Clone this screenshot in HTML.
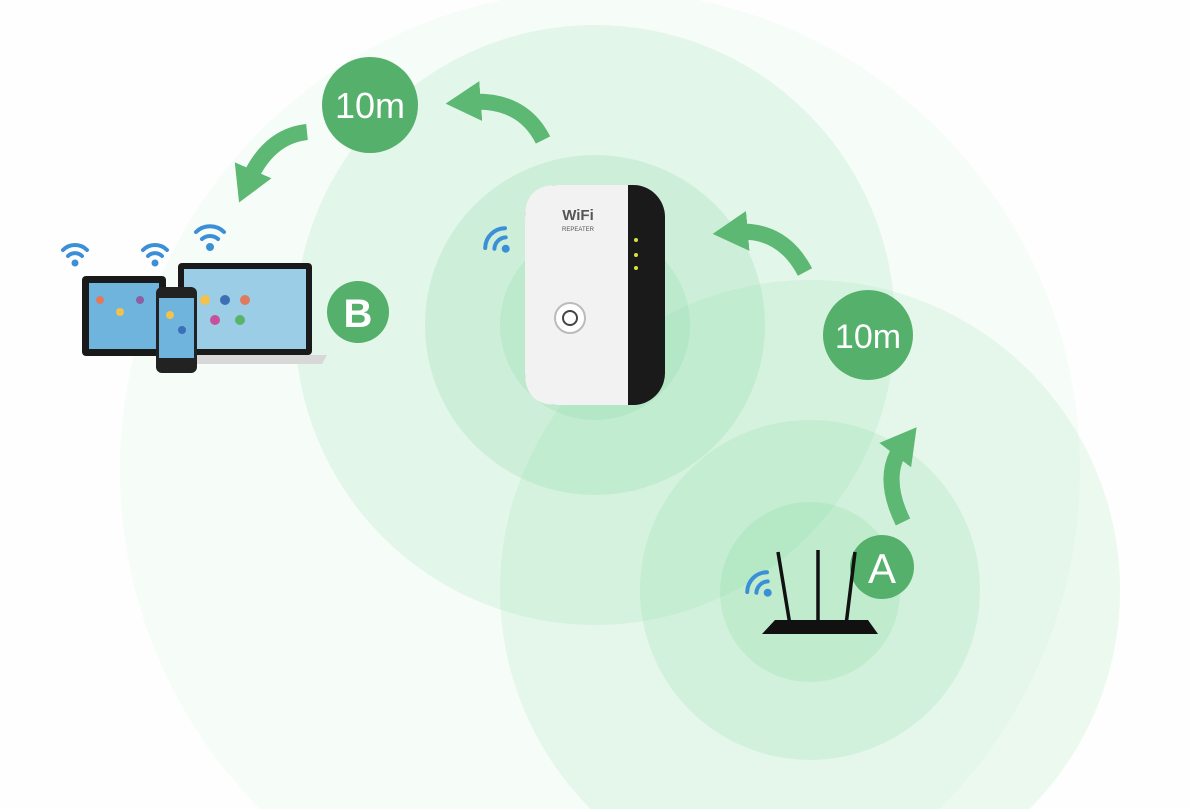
<!DOCTYPE html>
<html><head><style>
html,body{margin:0;padding:0;background:#fff;width:1190px;height:809px;overflow:hidden;}
svg{display:block}
text{font-family:"Liberation Sans",sans-serif}
</style></head><body>
<svg width="1190" height="809" viewBox="0 0 1190 809" xmlns="http://www.w3.org/2000/svg">
<defs>
<marker id="ah" markerWidth="3" markerHeight="3" refX="0.8" refY="1.25" orient="auto" markerUnits="strokeWidth">
<path d="M0,0 L2.2,1.25 L0,2.5 z" fill="#5cb872"/>
</marker>
</defs>
<rect width="1190" height="809" fill="#fdfefd"/>
<circle cx="600" cy="470" r="480" fill="#7fd99a" opacity="0.05"/>
<circle cx="810" cy="590" r="310" fill="#7fd99a" opacity="0.14"/>
<circle cx="595" cy="325" r="300" fill="#7fd99a" opacity="0.16"/>
<circle cx="810" cy="590" r="170" fill="#7fd99a" opacity="0.18"/>
<circle cx="595" cy="325" r="170" fill="#7fd99a" opacity="0.2"/>
<circle cx="810" cy="592" r="90" fill="#7fd99a" opacity="0.22"/>
<circle cx="595" cy="325" r="95" fill="#7fd99a" opacity="0.2"/>

<g fill="none" stroke="#5cb872" stroke-width="16" stroke-linecap="butt">
<path d="M903,522 Q880,475 903,445" marker-end="url(#ah)"/>
<path d="M805,272 Q782,228 735,232" marker-end="url(#ah)"/>
<path d="M543,140 Q522,98 468,102" marker-end="url(#ah)"/>
<path d="M307,132 Q268,136 248,182" marker-end="url(#ah)"/>
</g>

<circle cx="370" cy="105" r="48" fill="#55b06c"/>
<text x="370" y="118" font-size="36" fill="#fff" text-anchor="middle">10m</text>
<circle cx="868" cy="335" r="45" fill="#55b06c"/>
<text x="868" y="348" font-size="34" fill="#fff" text-anchor="middle">10m</text>
<circle cx="358" cy="312" r="31" fill="#55b06c"/>
<text x="358" y="327" font-size="40" font-weight="bold" fill="#fff" text-anchor="middle">B</text>
<circle cx="882" cy="567" r="32" fill="#55b06c"/>
<text x="882" y="583" font-size="42" fill="#fff" text-anchor="middle">A</text>

<g fill="none" stroke="#3b8fd6" stroke-width="4" stroke-linecap="round">
<g transform="translate(75,262)"><path d="M-12,-12 A17,17 0 0 1 12,-12"/><path d="M-7,-6 A10,10 0 0 1 7,-6"/><circle cx="0" cy="1" r="1.5" fill="#3b8fd6"/></g>
<g transform="translate(155,262)"><path d="M-12,-12 A17,17 0 0 1 12,-12"/><path d="M-7,-6 A10,10 0 0 1 7,-6"/><circle cx="0" cy="1" r="1.5" fill="#3b8fd6"/></g>
<g transform="translate(210,246)"><path d="M-14,-14 A20,20 0 0 1 14,-14"/><path d="M-8,-7 A12,12 0 0 1 8,-7"/><circle cx="0" cy="1" r="2" fill="#3b8fd6"/></g>
<g transform="translate(505,248) rotate(-45)"><path d="M-14,-14 A20,20 0 0 1 14,-14"/><path d="M-8,-7 A12,12 0 0 1 8,-7"/><circle cx="0" cy="1" r="2" fill="#3b8fd6"/></g>
<g transform="translate(767,592) rotate(-45)"><path d="M-14,-14 A20,20 0 0 1 14,-14"/><path d="M-8,-7 A12,12 0 0 1 8,-7"/><circle cx="0" cy="1" r="2" fill="#3b8fd6"/></g>
</g>

<rect x="82" y="276" width="84" height="80" rx="4" fill="#1a1a1a"/>
<rect x="89" y="283" width="70" height="66" fill="#6fb4dc"/>
<rect x="178" y="263" width="134" height="92" rx="4" fill="#1a1a1a"/>
<rect x="184" y="269" width="122" height="80" fill="#9ccde6"/>
<path d="M170,355 L327,355 L322,364 L175,364 z" fill="#d8d8d8"/>
<rect x="156" y="287" width="41" height="86" rx="6" fill="#222"/>
<rect x="159" y="298" width="35" height="60" fill="#6fb4dc"/>
<g fill="#e07a5f"><circle cx="100" cy="300" r="4"/><circle cx="120" cy="312" r="4" fill="#f2c14e"/><circle cx="140" cy="300" r="4" fill="#8e5ea2"/><circle cx="205" cy="300" r="5" fill="#f2c14e"/><circle cx="225" cy="300" r="5" fill="#3d6fb6"/><circle cx="245" cy="300" r="5" fill="#e07a5f"/><circle cx="215" cy="320" r="5" fill="#c94f9b"/><circle cx="240" cy="320" r="5" fill="#59b36b"/><circle cx="170" cy="315" r="4" fill="#f2c14e"/><circle cx="182" cy="330" r="4" fill="#3d6fb6"/></g>

<rect x="525" y="185" width="140" height="220" rx="32" fill="#1a1a1a"/>
<path d="M557,185 L628,185 L628,405 L557,405 Q525,405 525,373 L525,217 Q525,185 557,185 z" fill="#f2f2f2"/>
<text x="578" y="220" font-size="15" fill="#555" text-anchor="middle" font-weight="bold">WiFi</text>
<text x="578" y="231" font-size="6" fill="#555" text-anchor="middle">REPEATER</text>
<circle cx="570" cy="318" r="15" fill="#fff" stroke="#bbb" stroke-width="2"/>
<circle cx="570" cy="318" r="7" fill="none" stroke="#444" stroke-width="2"/>
<g fill="#d8e23a"><circle cx="636" cy="240" r="2"/><circle cx="636" cy="255" r="2"/><circle cx="636" cy="268" r="2"/></g>

<g stroke="#111" stroke-width="3.5">
<line x1="790" y1="625" x2="778" y2="552"/>
<line x1="818" y1="625" x2="818" y2="550"/>
<line x1="846" y1="625" x2="855" y2="552"/>
</g>
<path d="M775,620 L868,620 L878,634 L762,634 z" fill="#111"/>
</svg>
</body></html>
